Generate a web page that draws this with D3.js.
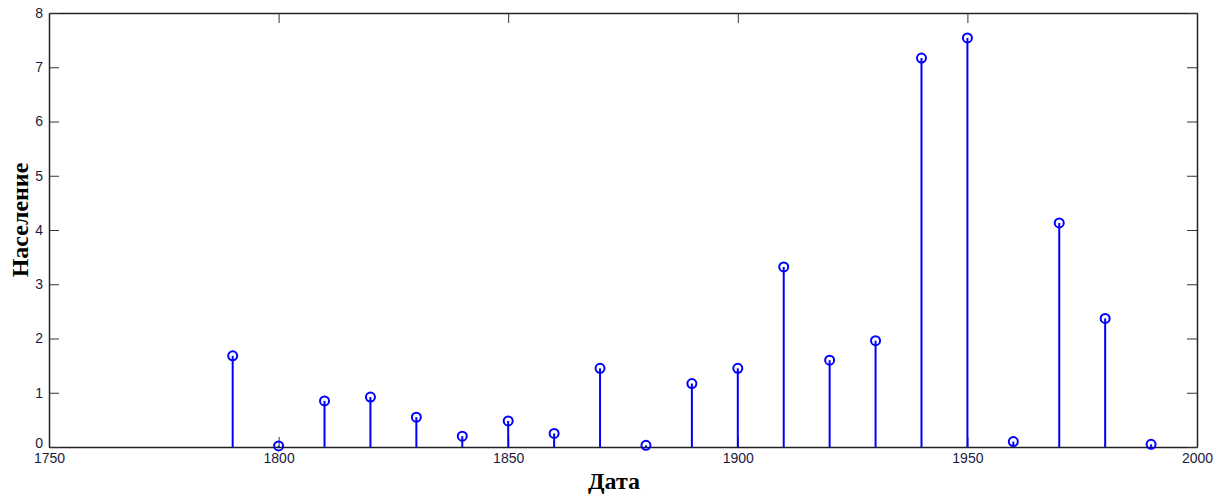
<!DOCTYPE html>
<html>
<head>
<meta charset="utf-8">
<script src="https://cdn.jsdelivr.net/npm/d3@7"></script>
<style>
  body { margin: 0; background: #fff; }
  .tick text { font-family: Arial, "Liberation Sans", sans-serif; font-size: 14px; fill: #1a1a40; }
  .axis-title { font-family: "Liberation Serif", "Times New Roman", serif; font-weight: bold; font-size: 24px; fill: #000; }
</style>
</head>
<body>
<svg id="chart"></svg>
<script>
// years and population values
const years = [1790, 1800, 1810, 1820, 1830, 1840, 1850, 1860, 1870, 1880, 1890,
               1900, 1910, 1920, 1930, 1940, 1950, 1960, 1970, 1980, 1990];
const population = [1.68, 0.02, 0.85, 0.92, 0.55, 0.2, 0.48, 0.25, 1.45, 0.03, 1.17,
                     1.45, 3.32, 1.6, 1.96, 7.17, 7.54, 0.1, 4.13, 2.37, 0.05];
const xTicks = [1750, 1800, 1850, 1900, 1950, 2000];
const yTicks = [0, 1, 2, 3, 4, 5, 6, 7, 8];
const xLabel = 'Дата';
const yLabel = 'Население';

const width = 1220, height = 495;
const margin = { top: 13, right: 23, bottom: 48, left: 49 };
const w = width - margin.left - margin.right;
const h = height - margin.top - margin.bottom;

const svg = d3.select('#chart').attr('width', width).attr('height', height);
const g = svg.append('g').attr('transform', `translate(${margin.left},${margin.top})`);

const x = d3.scaleLinear().domain([1750, 2000]).range([0, w]);
const y = d3.scaleLinear().domain([0, 8]).range([h, 0]);

// axes with inward ticks, MATLAB style box
const tickLen = 10;
g.append('g').attr('transform', `translate(0,${h})`)
  .call(d3.axisBottom(x).tickValues(xTicks).tickFormat(d3.format('d')).tickSizeInner(-tickLen).tickSizeOuter(0).tickPadding(6));
g.append('g')
  .call(d3.axisTop(x).tickValues(xTicks).tickFormat('').tickSizeInner(-tickLen).tickSizeOuter(0));
const yAxisG = g.append('g')
  .call(d3.axisLeft(y).tickValues(yTicks).tickSizeInner(-tickLen).tickSizeOuter(0).tickPadding(6));
g.append('g').attr('transform', `translate(${w},0)`)
  .call(d3.axisRight(y).tickValues(yTicks).tickFormat('').tickSizeInner(-tickLen).tickSizeOuter(0));

// lift the "0" a touch so it doesn't sit on top of "1750"
yAxisG.selectAll('.tick').filter(d => d === 0).select('text').attr('y', -4);

g.selectAll('.domain').attr('stroke', '#222').attr('stroke-width', 1.5);
g.selectAll('.tick line').attr('stroke', '#333');

// stems
const data = years.map((yr, i) => ({ year: yr, val: population[i] }));
g.selectAll('.stem').data(data).enter().append('line')
  .attr('class', 'stem')
  .attr('x1', d => x(d.year)).attr('x2', d => x(d.year))
  .attr('y1', y(0)).attr('y2', d => y(d.val))
  .attr('stroke', '#0000ff').attr('stroke-width', 2);

g.selectAll('.marker').data(data).enter().append('circle')
  .attr('class', 'marker')
  .attr('cx', d => x(d.year)).attr('cy', d => y(d.val))
  .attr('r', 4.5)
  .attr('fill', 'none')
  .attr('stroke', '#0000ff').attr('stroke-width', 2);

// axis titles
svg.append('text').attr('class', 'axis-title')
  .attr('x', 614).attr('y', 489)
  .attr('text-anchor', 'middle').text(xLabel);
svg.append('text').attr('class', 'axis-title')
  .attr('transform', `translate(28,220) rotate(-90)`)
  .attr('text-anchor', 'middle').text(yLabel);
</script>
</body>
</html>
